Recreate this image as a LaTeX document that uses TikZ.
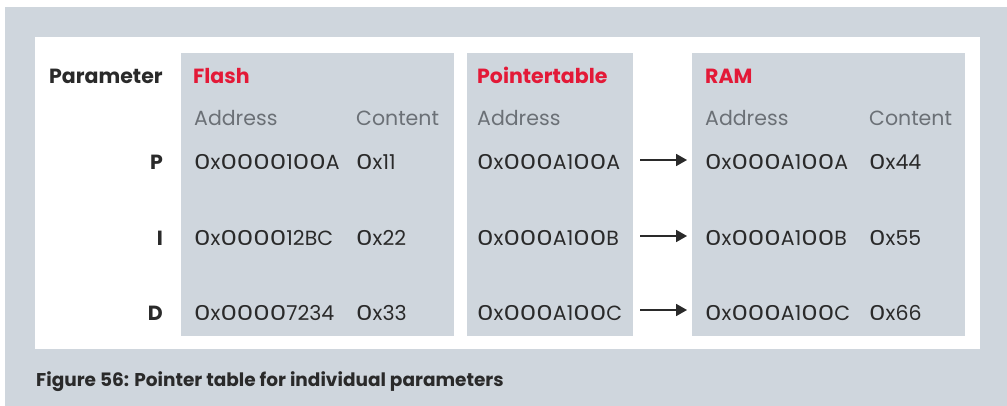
\documentclass[tikz,border=0pt]{standalone}
\usepackage{fontspec}
\setmainfont{Poppins}
\usetikzlibrary{arrows.meta}
\definecolor{panel}{HTML}{CFD6DD}
\definecolor{accent}{HTML}{E31937}
\definecolor{sub}{HTML}{6B7076}
\definecolor{ink}{HTML}{2A2A2A}
\newcommand\hz{\scalebox{1.28}[1]{0}}
\tikzset{
  txt/.style={anchor=base west, inner sep=0pt, text=ink, font=\fontsize{20.5}{24}\selectfont},
  hdr/.style={txt, font=\fontsize{20.5}{24}\selectfont\bfseries},
  red/.style={hdr, text=accent},
  colhead/.style={txt, text=sub},
  lbl/.style={hdr, anchor=base east},
  ptr/.style={line width=1.8pt, -{Triangle[length=11pt,width=12pt]}, ink},
}
\begin{document}
\begin{tikzpicture}[x=1pt,y=-1pt]
\useasboundingbox (0,0) rectangle (1007,406);
\fill[panel] (5,7) rectangle (1007,406);
\fill[white] (35,37) rectangle (980,349);
\fill[panel] (181,53) rectangle (454,336);
\fill[panel] (467,53) rectangle (633,336);
\fill[panel] (692,53) rectangle (965,336);
% headers
\node[hdr] (param) at (49,84) {Parameter};
\node[red] (flash) at (193,84) {Flash};
\node[red] (ptab) at (477,84) {Pointertable};
\node[red] (ram) at (705,84) {RAM};
\node[colhead] (fa) at (194,126) {Address};
\node[colhead] (fc) at (356,126) {Content};
\node[colhead] (pa) at (477,126) {Address};
\node[colhead] (ra) at (705,126) {Address};
\node[colhead] (rc) at (869,126) {Content};
% rows
\node[lbl] (lp) at (163,170) {P};
\node[lbl] (li) at (163,246) {I};
\node[lbl] (ld) at (163,320) {D};
\node[txt] (f1) at (194,170) {\hz x\hz\hz\hz\hz1\hz\hz A};
\node[txt] (f2) at (194,246) {\hz x\hz\hz\hz\hz12BC};
\node[txt] (f3) at (194,320) {\hz x\hz\hz\hz\hz7234};
\node[txt] (c1) at (356,170) {\hz x11};
\node[txt] (c2) at (356,246) {\hz x22};
\node[txt] (c3) at (356,320) {\hz x33};
\node[txt] (p1) at (477,170) {\hz x\hz\hz\hz A1\hz\hz A};
\node[txt] (p2) at (477,246) {\hz x\hz\hz\hz A1\hz\hz B};
\node[txt] (p3) at (477,320) {\hz x\hz\hz\hz A1\hz\hz C};
\node[txt] (r1) at (705,170) {\hz x\hz\hz\hz A1\hz\hz A};
\node[txt] (r2) at (705,246) {\hz x\hz\hz\hz A1\hz\hz B};
\node[txt] (r3) at (705,320) {\hz x\hz\hz\hz A1\hz\hz C};
\node[txt] (v1) at (869,170) {\hz x44};
\node[txt] (v2) at (869,246) {\hz x55};
\node[txt] (v3) at (869,320) {\hz x66};
% arrows
\coordinate (a1s) at (640,160); \coordinate (a1e) at (687,160);
\coordinate (a2s) at (640,236); \coordinate (a2e) at (687,236);
\coordinate (a3s) at (640,310); \coordinate (a3e) at (687,310);
\draw[ptr] (a1s) -- (a1e);
\draw[ptr] (a2s) -- (a2e);
\draw[ptr] (a3s) -- (a3e);
% caption
\node[hdr, font=\fontsize{18.5}{22}\selectfont\bfseries] (cap) at (36,386) {Figure 56: Pointer table for individual parameters};
\end{tikzpicture}
\end{document}
